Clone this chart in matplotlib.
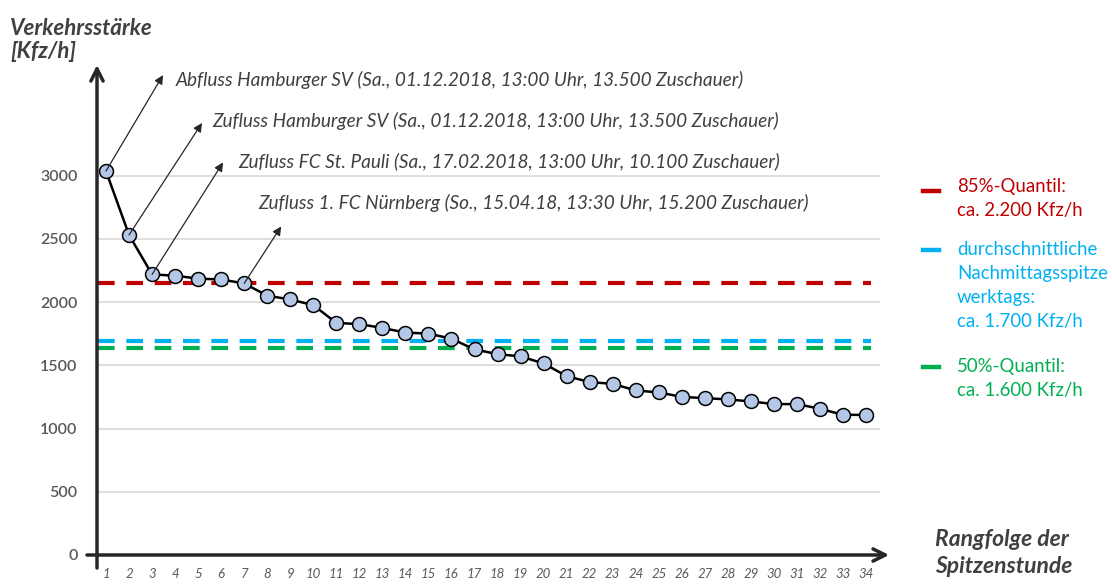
import matplotlib
matplotlib.use("Agg")
import matplotlib.pyplot as plt
from matplotlib.lines import Line2D

plt.rcParams["font.family"] = ["Lato", "DejaVu Sans"]

# data
ranks = list(range(1, 35))
volumes = [3035, 2530, 2218, 2208, 2185, 2178, 2147, 2050, 2020, 1975,
           1835, 1825, 1795, 1758, 1750, 1710, 1625, 1588, 1570, 1514,
           1414, 1367, 1353, 1301, 1285, 1250, 1240, 1230, 1214, 1193,
           1193, 1156, 1108, 1108]
y_ticks = [0, 500, 1000, 1500, 2000, 2500, 3000]

ref_values = [2150, 1695, 1640]
ref_colors = ["#C00000", "#00B0F0", "#00B050"]
ref_labels = ["85%-Quantil:\nca. 2.200 Kfz/h",
              "durchschnittliche\nNachmittagsspitze\nwerktags:\nca. 1.700 Kfz/h",
              "50%-Quantil:\nca. 1.600 Kfz/h"]

note_ranks = [1, 2, 3, 7]
note_texts = [
    "Abfluss Hamburger SV (Sa., 01.12.2018, 13:00 Uhr, 13.500 Zuschauer)",
    "Zufluss Hamburger SV (Sa., 01.12.2018, 13:00 Uhr, 13.500 Zuschauer)",
    "Zufluss FC St. Pauli (Sa., 17.02.2018, 13:00 Uhr, 10.100 Zuschauer)",
    "Zufluss 1. FC Nürnberg (So., 15.04.18, 13:30 Uhr, 15.200 Zuschauer)",
]

W, H = 1112, 585
fig = plt.figure(figsize=(W / 100, H / 100), dpi=100)
ax = fig.add_axes([97 / W, (H - 555) / H, (905 - 97) / W, (555 - 70) / H])
ax.set_xlim(0.609, 35.69)
ax.set_ylim(0, 3834)
for s in ax.spines.values():
    s.set_visible(False)

grey = "#595959"
dark = "#404040"

# grid
ax.hlines(y_ticks[1:], 0.55, 34.61, color="#D9D9D9", lw=1.2, zorder=0)

# reference lines
for v, c in zip(ref_values, ref_colors):
    ax.plot([0.65, 34.2], [v, v], color=c, lw=3, dashes=(4, 2.8), zorder=1)

# series
ax.plot(ranks, volumes, color="black", lw=1.8, marker="o", ms=10,
        mfc="#B4C7E7", mec="black", mew=1.1, zorder=3)

# axis arrows
ax.annotate("", xy=(35.0, 0), xytext=(0.175, 0), annotation_clip=False,
            arrowprops=dict(arrowstyle="->", lw=2.5, color="#262626",
                            mutation_scale=22, shrinkA=0, shrinkB=0))
ax.annotate("", xy=(0.609, 3874), xytext=(0.609, -103), annotation_clip=False,
            arrowprops=dict(arrowstyle="->", lw=2.5, color="#262626",
                            mutation_scale=22, shrinkA=0, shrinkB=0))

# ticks
ax.set_yticks(y_ticks)
ax.set_yticklabels([str(t) for t in y_ticks], color=grey, fontsize=11.5,
                   weight="semibold")
ax.set_xticks(ranks)
ax.set_xticklabels([str(r) for r in ranks], color=grey, fontsize=9.5, style="italic")
ax.tick_params(axis="y", length=0, pad=14)
ax.tick_params(axis="x", length=0, pad=9)

# annotation arrows, offsets in pixels from the data point
offsets = [(57, 96), (73, 112), (71, 112), (37, 57)]
for r, (dx, dy) in zip(note_ranks, offsets):
    x0, y0 = ax.transData.transform((r, volumes[r - 1]))
    tip = ax.transData.inverted().transform((x0 + dx, y0 + dy))
    ax.annotate("", xy=tip, xytext=(r, volumes[r - 1]), annotation_clip=False,
                arrowprops=dict(arrowstyle="-|>", lw=0.9, color="#262626",
                                mutation_scale=13, shrinkA=0, shrinkB=0))

note_pos = [(176, 80), (212, 121), (238, 161), (258, 203)]
for (px, py), t in zip(note_pos, note_texts):
    fig.text(px / W, 1 - py / H, t, fontsize=13.7, style="italic", color=dark,
             va="center", ha="left")

# axis titles
fig.text(10 / W, 1 - 40 / H, "Verkehrsstärke\n[Kfz/h]", fontsize=16,
         style="italic", weight="bold", color=dark, va="center", ha="left",
         linespacing=1.15)
fig.text(935 / W, 1 - 553 / H, "Rangfolge der\nSpitzenstunde", fontsize=16.5,
         style="italic", weight="bold", color=dark, va="center", ha="left",
         linespacing=1.3)

# legend
legend_y = [191, 250, 367]
legend_text_top = [178, 241, 358]
for ly, ty, lab, c in zip(legend_y, legend_text_top, ref_labels, ref_colors):
    fig.add_artist(Line2D([923 / W, 939 / W], [1 - ly / H, 1 - ly / H],
                          color=c, lw=3.2))
    fig.text(957 / W, 1 - ty / H, lab, fontsize=13.4, color=c,
             va="top", ha="left", linespacing=1.5)

fig.savefig("out.png", dpi=100)
